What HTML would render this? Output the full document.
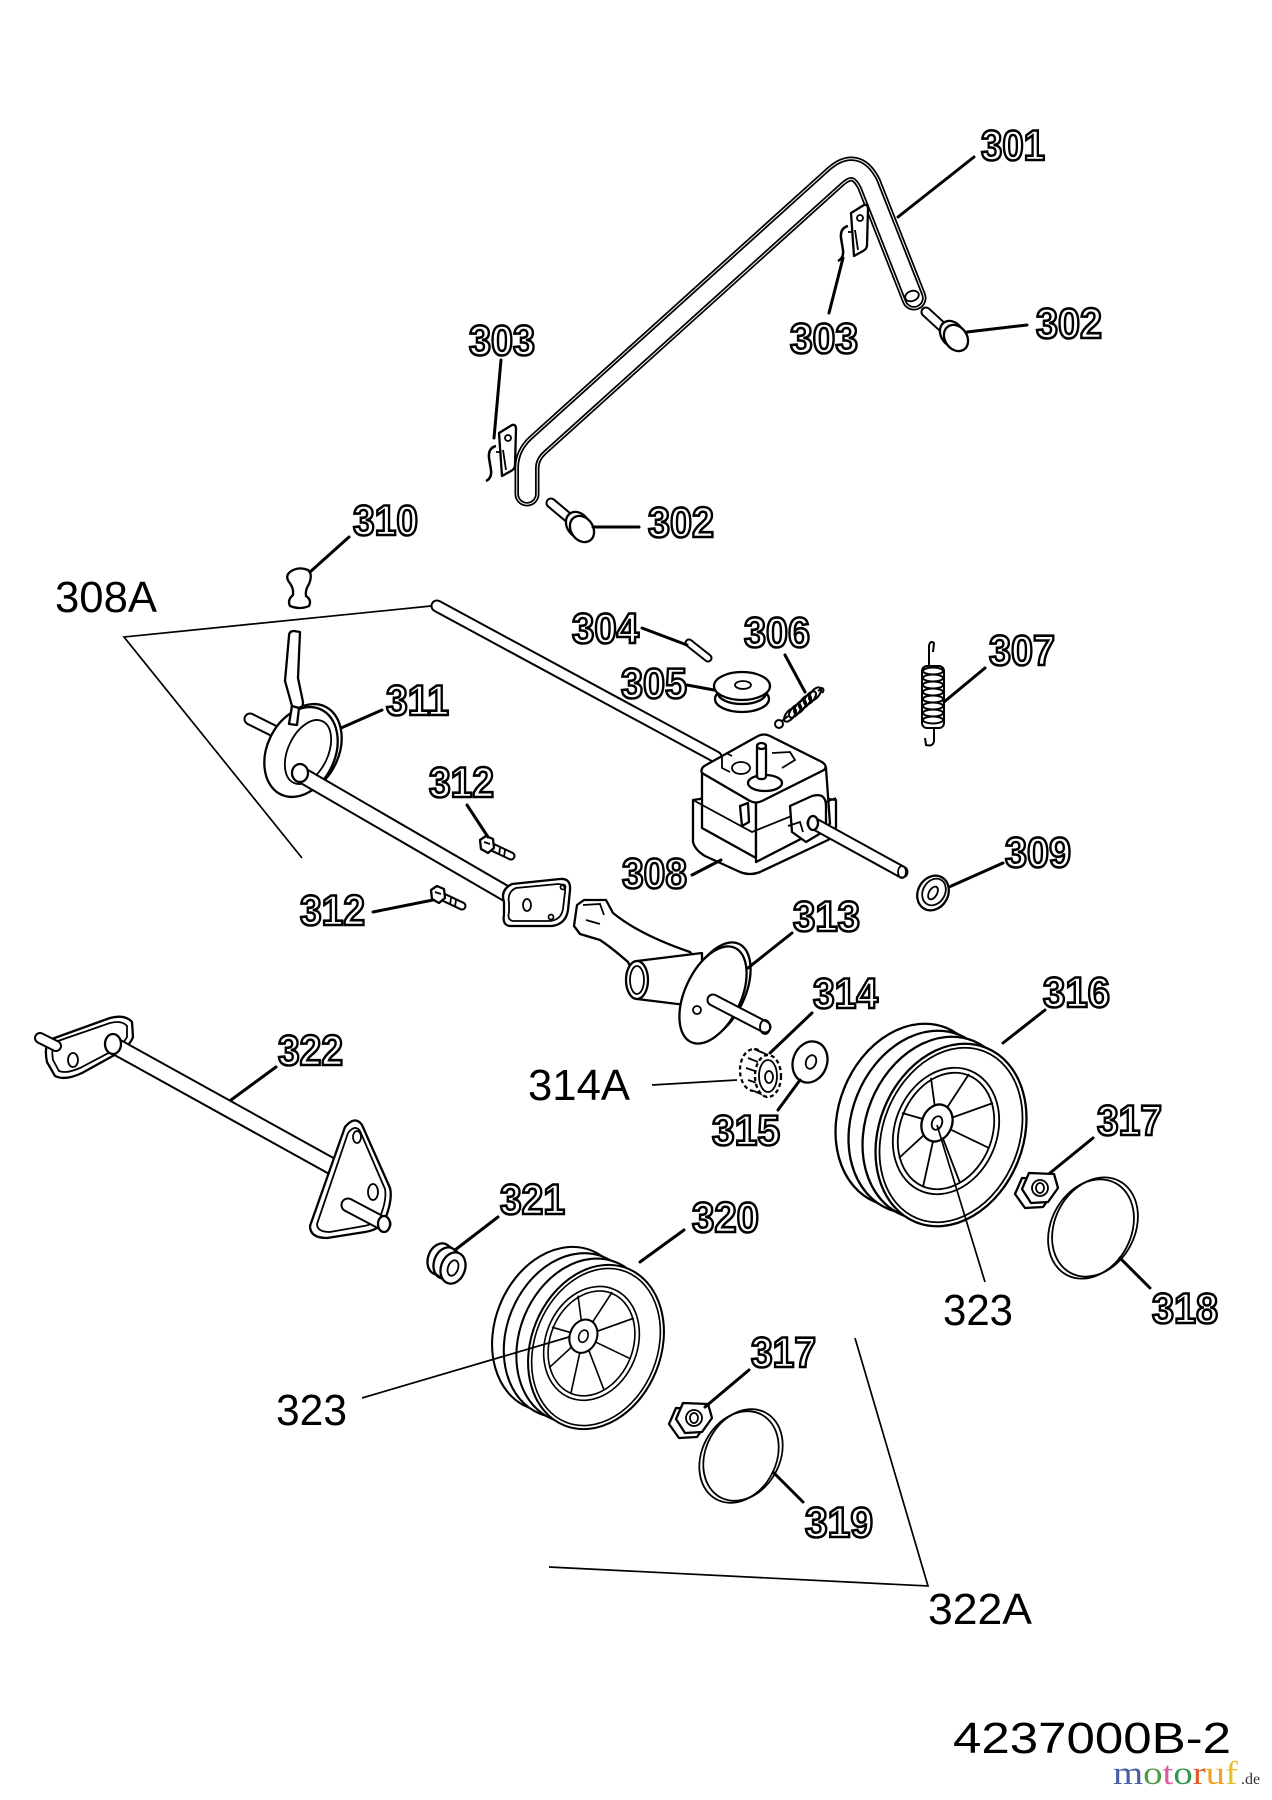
<!DOCTYPE html>
<html><head><meta charset="utf-8">
<style>
html,body{margin:0;padding:0;background:#fff;}
svg{display:block;}
.o{font-family:"Liberation Sans",sans-serif;font-weight:bold;font-size:43px;fill:#fff;stroke:#000;stroke-width:2.6px;}
.r{font-family:"Liberation Sans",sans-serif;font-size:44px;fill:#000;}
.ld{stroke:#000;stroke-width:3;stroke-linecap:round;fill:none}
.tl{stroke:#000;stroke-width:1.7;fill:none}
.p{fill:#fff;stroke:#000;stroke-width:2.3;stroke-linejoin:round}
.s{fill:none;stroke:#000;stroke-width:1.8}
</style></head><body>
<svg width="1272" height="1800" viewBox="0 0 1272 1800" xmlns="http://www.w3.org/2000/svg">
<rect width="1272" height="1800" fill="#fff"/>

<!-- ===== 301 handle ===== -->
<g fill="none" stroke-linecap="round" stroke-linejoin="round">
<path d="M527 494 L527 468 Q527 455 538 445 L835 177 Q856 158 869 184 L914 298" stroke="#000" stroke-width="25"/>
<path d="M527 494 L527 468 Q527 455 538 445 L835 177 Q856 158 869 184 L914 298" stroke="#fff" stroke-width="21.5"/>
<path d="M527 494 L527 468 Q527 455 538 445 L835 177 Q856 158 869 184 L914 298" stroke="#000" stroke-width="19.5"/>
<path d="M527 494 L527 468 Q527 455 538 445 L835 177 Q856 158 869 184 L914 298" stroke="#fff" stroke-width="16"/>
</g>
<ellipse cx="912" cy="296" rx="7" ry="5" transform="rotate(-20 912 296)" class="s"/>

<!-- 303 clips -->
<g>
<path d="M499 433 L512 425 Q516 424 516 429 L515 465 Q515 469 511 471 L502 476 Z" class="p"/>
<path d="M496 446 Q488 448 489 458 L491 470 Q492 478 486 481" fill="none" stroke="#000" stroke-width="2.5"/>
<circle cx="508" cy="438" r="3" class="s"/>
<path d="M503 450 L506 470 M496 452 L501 452" class="s"/>
</g>
<g transform="translate(352,-220)">
<path d="M499 433 L512 425 Q516 424 516 429 L515 465 Q515 469 511 471 L502 476 Z" class="p"/>
<path d="M496 446 Q488 448 489 458 L491 470 Q492 478 486 481" fill="none" stroke="#000" stroke-width="2.5"/>
<circle cx="508" cy="438" r="3" class="s"/>
<path d="M503 450 L506 470 M496 452 L501 452" class="s"/>
</g>

<!-- 302 bolts -->
<g>
<line x1="926" y1="312" x2="950" y2="334" stroke="#000" stroke-width="11" stroke-linecap="round"/>
<line x1="926" y1="312" x2="950" y2="334" stroke="#fff" stroke-width="7" stroke-linecap="round"/>
<ellipse cx="952" cy="334" rx="11" ry="14" transform="rotate(-35 952 334)" class="p"/>
<ellipse cx="956" cy="338" rx="11" ry="14" transform="rotate(-35 956 338)" class="p"/>
</g>
<g>
<line x1="551" y1="503" x2="576" y2="524" stroke="#000" stroke-width="11" stroke-linecap="round"/>
<line x1="551" y1="503" x2="576" y2="524" stroke="#fff" stroke-width="7" stroke-linecap="round"/>
<ellipse cx="578" cy="525" rx="11" ry="14" transform="rotate(-35 578 525)" class="p"/>
<ellipse cx="582" cy="529" rx="11" ry="14" transform="rotate(-35 582 529)" class="p"/>
</g>

<!-- 310 knob -->
<path d="M290 572 Q298 566 308 570 Q313 574 309 584 Q305 590 306 596 Q312 600 309 606 Q300 610 290 606 Q287 600 293 595 Q294 588 289 582 Q285 576 290 572 Z" class="p" stroke-width="2.6"/>

<!-- 308A rod -->
<line x1="437" y1="606" x2="716" y2="757" stroke="#000" stroke-width="13" stroke-linecap="round"/>
<line x1="437" y1="606" x2="716" y2="757" stroke="#fff" stroke-width="9" stroke-linecap="round"/>

<!-- 311 lever + disk + axle -->
<line x1="250" y1="719" x2="292" y2="740" stroke="#000" stroke-width="13" stroke-linecap="round"/>
<line x1="250" y1="719" x2="292" y2="740" stroke="#fff" stroke-width="9" stroke-linecap="round"/>
<path d="M289 636 Q289 631 294 631 L300 632 L298 678 L303 702 L299 745 L287 745 L292 706 L285 681 Z" class="p"/>
<ellipse cx="305" cy="749" rx="34" ry="47" transform="rotate(25 305 749)" class="p"/>
<ellipse cx="301" cy="752" rx="34" ry="47" transform="rotate(25 301 752)" class="p"/>
<ellipse cx="308" cy="752" rx="20" ry="34" transform="rotate(25 308 752)" class="s"/>
<path d="M292 706 L299 708 L297 725 L289 724 Z" class="p"/>
<line x1="300" y1="774" x2="512" y2="897" stroke="#000" stroke-width="17" stroke-linecap="round"/>
<line x1="300" y1="774" x2="512" y2="897" stroke="#fff" stroke-width="13" stroke-linecap="round"/>
<ellipse cx="300" cy="773" rx="8" ry="9" class="p"/>
<path d="M504 902 Q500 890 512 884 L560 879 Q571 878 570 890 L568 910 Q566 924 552 926 L510 926 Q502 925 504 915 Z" class="p"/>
<path d="M509 903 Q507 892 516 888 L558 884 Q566 884 565 892 L563 909 Q561 920 550 921 L513 921 Q507 920 509 912 Z" class="s" stroke-width="1.2"/>
<ellipse cx="527" cy="905" rx="4" ry="6" class="s"/>
<circle cx="563" cy="887" r="2.5" class="s"/>
<circle cx="551" cy="917" r="2.5" class="s"/>

<!-- 312 bolts -->
<g>
<line x1="492" y1="847" x2="511" y2="856" stroke="#000" stroke-width="9" stroke-linecap="round"/>
<line x1="492" y1="847" x2="511" y2="856" stroke="#fff" stroke-width="5" stroke-linecap="round"/>
<path d="M500 848 L499 855 M505 850 L504 857" class="s" stroke-width="1.2"/>
<polygon points="480,840 486,836 493,839 494,848 488,853 481,849" class="p"/>
<path d="M484 842 L490 844" class="s"/>
</g>
<g>
<line x1="443" y1="897" x2="462" y2="906" stroke="#000" stroke-width="9" stroke-linecap="round"/>
<line x1="443" y1="897" x2="462" y2="906" stroke="#fff" stroke-width="5" stroke-linecap="round"/>
<path d="M451 898 L450 905 M456 900 L455 907" class="s" stroke-width="1.2"/>
<polygon points="431,890 437,886 444,889 445,898 439,903 432,899" class="p"/>
<path d="M435 892 L441 894" class="s"/>
</g>

<!-- 304 pin -->
<line x1="689" y1="643" x2="708" y2="658" stroke="#000" stroke-width="9" stroke-linecap="round"/>
<line x1="689" y1="643" x2="708" y2="658" stroke="#fff" stroke-width="5" stroke-linecap="round"/>

<!-- 305 pulley -->
<ellipse cx="742" cy="699" rx="27" ry="13" class="p"/>
<ellipse cx="742" cy="693" rx="24" ry="11" class="p"/>
<ellipse cx="742" cy="686" rx="28" ry="14" class="p"/>
<ellipse cx="743" cy="685" rx="8" ry="4" class="s"/>

<!-- 306 spring -->
<g fill="none" stroke="#000" stroke-width="2">
<circle cx="779" cy="724" r="4"/>
<line x1="782" y1="721" x2="788" y2="716"/>
<ellipse cx="790" cy="715" rx="4" ry="8" transform="rotate(40 790 715)"/>
<ellipse cx="795" cy="711" rx="4" ry="8" transform="rotate(40 795 711)"/>
<ellipse cx="800" cy="707" rx="4" ry="8" transform="rotate(40 800 707)"/>
<ellipse cx="805" cy="702" rx="4" ry="8" transform="rotate(40 805 702)"/>
<ellipse cx="810" cy="698" rx="4" ry="8" transform="rotate(40 810 698)"/>
<ellipse cx="815" cy="694" rx="4" ry="8" transform="rotate(40 815 694)"/>
<path d="M818 691 L822 688 Q825 690 822 693"/>
</g>

<!-- 307 spring -->
<g fill="none" stroke="#000" stroke-width="2">
<path d="M929 668 L929 646 Q930 640 934 643 L933 652"/>
<rect x="922" y="666" width="22" height="62" rx="5"/>
<ellipse cx="933" cy="671" rx="10" ry="3.5"/>
<ellipse cx="933" cy="678" rx="10" ry="3.5"/>
<ellipse cx="933" cy="685" rx="10" ry="3.5"/>
<ellipse cx="933" cy="692" rx="10" ry="3.5"/>
<ellipse cx="933" cy="699" rx="10" ry="3.5"/>
<ellipse cx="933" cy="706" rx="10" ry="3.5"/>
<ellipse cx="933" cy="713" rx="10" ry="3.5"/>
<ellipse cx="933" cy="720" rx="10" ry="3.5"/>
<path d="M934 728 L934 741 Q933 747 926 745 L925 738"/>
</g>

<!-- 308 gearbox -->
<path d="M693 800 L693 842 Q695 850 705 856 L740 872 Q750 876 760 872 L828 840 Q836 835 836 826 L836 800 L760 790 Z" class="p"/>
<path d="M702 773 L702 828 L756 858 L756 803 Z" class="p"/>
<path d="M756 803 L826 768 L830 824 L756 862 Z" class="p"/>
<path d="M693 800 L752 832 L836 798" class="s" stroke-width="2.2"/>
<path d="M702 773 Q700 768 706 765 L758 736 Q764 733 770 736 L822 762 Q828 766 824 770 L762 801 Q756 804 750 801 Z" class="p"/>
<ellipse cx="741" cy="768" rx="9" ry="6" class="s" stroke-width="2.2"/>
<path d="M722 757 L722 768 L730 772 M726 753 L732 756" class="s" stroke-width="2.2"/>
<ellipse cx="765" cy="783" rx="17" ry="8" class="p"/>
<rect x="757" y="745" width="9" height="34" rx="3" class="p"/>
<ellipse cx="761.5" cy="746" rx="4.5" ry="3" class="p"/>
<path d="M772 753 L790 752 L795 760 L782 768" class="s" stroke-width="2.2"/>
<path d="M740 806 L748 803 L749 822 L742 826 Z" class="p"/>
<path d="M790 806 L812 796 Q826 792 826 806 L826 830 L806 842 L792 832 Z" class="p"/>
<path d="M788 826 L800 822 L803 832" class="s"/>
<line x1="813" y1="823" x2="902" y2="872" stroke="#000" stroke-width="13" stroke-linecap="round"/>
<line x1="813" y1="823" x2="902" y2="872" stroke="#fff" stroke-width="9" stroke-linecap="round"/>
<ellipse cx="813" cy="823" rx="5" ry="7" class="p"/>
<ellipse cx="902" cy="872" rx="4" ry="6" class="s"/>

<!-- 309 washer -->
<ellipse cx="933" cy="893" rx="15" ry="18" transform="rotate(30 933 893)" class="p" stroke-width="2.6"/>
<ellipse cx="934" cy="892" rx="11" ry="14" transform="rotate(30 934 892)" class="s" stroke-width="1.2"/>
<ellipse cx="933" cy="893" rx="4" ry="7" transform="rotate(30 933 893)" class="s"/>

<!-- 313 -->
<path d="M577 905 L584 900 L606 900 L613 913 Q640 935 690 952 L697 960 L690 975 L640 988 L628 962 Q612 948 600 940 L580 934 L574 926 Z" class="p"/>
<path d="M583 905 L600 904 L604 915 M586 920 L600 924" class="s"/>
<path d="M637 961 L702 953 L702 1007 L637 999 Z" class="p"/>
<ellipse cx="637" cy="980" rx="11" ry="19" class="p"/>
<ellipse cx="637" cy="980" rx="7" ry="14" class="s"/>
<ellipse cx="717" cy="991" rx="28" ry="52" transform="rotate(25 717 991)" class="p"/>
<ellipse cx="713" cy="995" rx="28" ry="52" transform="rotate(25 713 995)" class="p"/>
<circle cx="697" cy="1010" r="4" class="s"/>
<line x1="713" y1="1000" x2="765" y2="1027" stroke="#000" stroke-width="13" stroke-linecap="round"/>
<line x1="713" y1="1000" x2="765" y2="1027" stroke="#fff" stroke-width="9" stroke-linecap="round"/>
<ellipse cx="765" cy="1027" rx="5" ry="7" class="s"/>

<!-- 314A gear -->
<g>
<ellipse cx="754" cy="1070" rx="14" ry="21" class="p" stroke-width="3" stroke-dasharray="4 3"/>
<path d="M754 1049 L768 1055 L768 1097 L754 1091 Z" fill="#fff"/>
<path d="M754 1049 L768 1055 M754 1091 L768 1097" class="s"/>
<path d="M748 1058 L758 1062 M746 1068 L758 1072 M748 1080 L760 1084" class="s" stroke-width="2.5"/>
<ellipse cx="768" cy="1076" rx="13" ry="21" class="p" stroke-width="3" stroke-dasharray="4 3"/>
<ellipse cx="768" cy="1076" rx="9" ry="16" class="s"/>
<ellipse cx="769" cy="1077" rx="4" ry="6" class="s"/>
</g>

<!-- 315 washer -->
<ellipse cx="810" cy="1062" rx="17" ry="21" transform="rotate(20 810 1062)" class="p" stroke-width="2.6"/>
<ellipse cx="811" cy="1062" rx="5" ry="7" transform="rotate(20 811 1062)" class="s"/>

<!-- 322 axle -->
<path d="M49 1040 L110 1018 Q125 1014 132 1022 L133 1037 Q130 1045 120 1052 L82 1073 Q65 1081 55 1076 L47 1062 Q44 1048 49 1040 Z" class="p"/>
<path d="M55 1042 L110 1023 Q122 1020 127 1026 L127 1037 Q124 1043 116 1049 L80 1068 Q66 1074 59 1071 L53 1060 Q51 1048 55 1042 Z" class="s" stroke-width="1.2"/>
<ellipse cx="73" cy="1060" rx="5" ry="7" class="s"/>
<line x1="56" y1="1046" x2="40" y2="1038" stroke="#000" stroke-width="12" stroke-linecap="round"/>
<line x1="56" y1="1046" x2="40" y2="1038" stroke="#fff" stroke-width="8" stroke-linecap="round"/>
<line x1="113" y1="1045" x2="335" y2="1168" stroke="#000" stroke-width="18"/>
<line x1="113" y1="1045" x2="335" y2="1168" stroke="#fff" stroke-width="14"/>
<ellipse cx="113" cy="1044" rx="8" ry="10" class="p"/>
<path d="M345 1127 Q355 1115 362 1125 L390 1188 Q393 1200 384 1222 Q378 1230 365 1232 L327 1238 Q310 1238 310 1226 Z" class="p"/>
<path d="M348 1133 Q355 1124 360 1131 L385 1189 Q387 1200 380 1217 Q375 1224 364 1226 L330 1232 Q317 1232 317 1224 Z" class="s" stroke-width="1.2"/>
<ellipse cx="357" cy="1137" rx="4" ry="6" class="s"/>
<ellipse cx="373" cy="1192" rx="5" ry="8" class="s"/>
<line x1="348" y1="1205" x2="384" y2="1224" stroke="#000" stroke-width="15" stroke-linecap="round"/>
<line x1="348" y1="1205" x2="384" y2="1224" stroke="#fff" stroke-width="11" stroke-linecap="round"/>
<ellipse cx="384" cy="1224" rx="6" ry="8" class="p"/>

<!-- 321 bushing -->
<ellipse cx="440" cy="1259" rx="12" ry="16" transform="rotate(20 440 1259)" class="p"/>
<ellipse cx="446" cy="1263" rx="12" ry="16" transform="rotate(20 446 1263)" class="p" stroke="none"/>
<path d="M446 1244 L458 1252 M436 1274 L448 1283" class="s" stroke-width="2.2"/>
<ellipse cx="453" cy="1268" rx="12" ry="16" transform="rotate(20 453 1268)" class="p"/>
<ellipse cx="453" cy="1268" rx="5" ry="8" transform="rotate(20 453 1268)" class="s"/>

<!-- Wheel 316 -->
<g>
<ellipse cx="911" cy="1115" rx="72" ry="94" transform="rotate(22 911 1115)" class="p"/>
<ellipse cx="924" cy="1122" rx="72" ry="94" transform="rotate(22 924 1122)" class="p"/>
<ellipse cx="938" cy="1128" rx="72" ry="94" transform="rotate(22 938 1128)" class="p"/>
<ellipse cx="951" cy="1135" rx="72" ry="94" transform="rotate(22 951 1135)" class="p" stroke-width="2.6"/>
<ellipse cx="951" cy="1135" rx="68" ry="90" transform="rotate(22 951 1135)" class="s" stroke-width="1.2"/>
<ellipse cx="946" cy="1131" rx="51" ry="65" transform="rotate(22 946 1131)" class="s" stroke-width="3.5"/>
<ellipse cx="946" cy="1131" rx="46" ry="60" transform="rotate(22 946 1131)" class="s" stroke-width="1.5"/>
<g class="s" stroke-width="2.2">
<line x1="937" y1="1123" x2="989" y2="1148"/>
<line x1="937" y1="1123" x2="960" y2="1183"/>
<line x1="937" y1="1123" x2="923" y2="1187"/>
<line x1="937" y1="1123" x2="899" y2="1158"/>
<line x1="937" y1="1123" x2="902" y2="1113"/>
<line x1="937" y1="1123" x2="931" y2="1078"/>
<line x1="937" y1="1123" x2="969" y2="1074"/>
<line x1="937" y1="1123" x2="993" y2="1103"/>
</g>
<ellipse cx="937" cy="1123" rx="15" ry="19" transform="rotate(22 937 1123)" class="p"/>
<ellipse cx="937" cy="1123" rx="5" ry="7" transform="rotate(22 937 1123)" class="s"/>
</g>
<!-- Wheel 320 -->
<g transform="translate(596 1347) scale(0.9) translate(-951 -1135)">
<ellipse cx="911" cy="1115" rx="72" ry="94" transform="rotate(22 911 1115)" class="p"/>
<ellipse cx="924" cy="1122" rx="72" ry="94" transform="rotate(22 924 1122)" class="p"/>
<ellipse cx="938" cy="1128" rx="72" ry="94" transform="rotate(22 938 1128)" class="p"/>
<ellipse cx="951" cy="1135" rx="72" ry="94" transform="rotate(22 951 1135)" class="p" stroke-width="2.6"/>
<ellipse cx="951" cy="1135" rx="68" ry="90" transform="rotate(22 951 1135)" class="s" stroke-width="1.2"/>
<ellipse cx="946" cy="1131" rx="51" ry="65" transform="rotate(22 946 1131)" class="s" stroke-width="3.5"/>
<ellipse cx="946" cy="1131" rx="46" ry="60" transform="rotate(22 946 1131)" class="s" stroke-width="1.5"/>
<g class="s" stroke-width="2.2">
<line x1="937" y1="1123" x2="989" y2="1148"/>
<line x1="937" y1="1123" x2="960" y2="1183"/>
<line x1="937" y1="1123" x2="923" y2="1187"/>
<line x1="937" y1="1123" x2="899" y2="1158"/>
<line x1="937" y1="1123" x2="902" y2="1113"/>
<line x1="937" y1="1123" x2="931" y2="1078"/>
<line x1="937" y1="1123" x2="969" y2="1074"/>
<line x1="937" y1="1123" x2="993" y2="1103"/>
</g>
<ellipse cx="937" cy="1123" rx="15" ry="19" transform="rotate(22 937 1123)" class="p"/>
<ellipse cx="937" cy="1123" rx="5" ry="7" transform="rotate(22 937 1123)" class="s"/>
</g>

<!-- 317 nuts -->
<g transform="translate(1038 1188)">
<polygon points="14,-12 19,2 9,16 -9,17 -19,3 -12,-13" transform="translate(-4 3)" class="p"/>
<polygon points="16,-14 20,0 10,14 -7,15 -16,1 -9,-15" class="p"/>
<circle cx="2" cy="0" r="8" class="s"/>
<ellipse cx="2" cy="0" rx="4" ry="5" class="s"/>
</g>
<g transform="translate(692 1418)">
<polygon points="14,-12 19,2 9,16 -9,17 -19,3 -12,-13" transform="translate(-4 3)" class="p"/>
<polygon points="16,-14 20,0 10,14 -7,15 -16,1 -9,-15" class="p"/>
<circle cx="2" cy="0" r="8" class="s"/>
<ellipse cx="2" cy="0" rx="4" ry="5" class="s"/>
</g>

<!-- 318 / 319 rings -->
<ellipse cx="1091" cy="1229" rx="40" ry="52" transform="rotate(28 1091 1229)" class="s" stroke-width="2.2"/>
<ellipse cx="1095" cy="1227" rx="40" ry="52" transform="rotate(28 1095 1227)" class="s" stroke-width="2.4"/>
<ellipse cx="739" cy="1457" rx="37" ry="48" transform="rotate(28 739 1457)" class="s" stroke-width="2.2"/>
<ellipse cx="743" cy="1455" rx="37" ry="48" transform="rotate(28 743 1455)" class="s" stroke-width="2.4"/>

<!-- ===== leaders ===== -->
<g class="ld">
<line x1="974" y1="157" x2="898" y2="217"/>
<line x1="1027" y1="325" x2="967" y2="332"/>
<line x1="501" y1="360" x2="494" y2="438"/>
<line x1="829" y1="313" x2="843" y2="258"/>
<line x1="639" y1="527" x2="593" y2="527"/>
<line x1="349" y1="537" x2="310" y2="572"/>
<line x1="642" y1="628" x2="687" y2="645"/>
<line x1="785" y1="655" x2="805" y2="692"/>
<line x1="687" y1="685" x2="714" y2="690"/>
<line x1="985" y1="668" x2="944" y2="702"/>
<line x1="382" y1="710" x2="341" y2="728"/>
<line x1="467" y1="805" x2="488" y2="837"/>
<line x1="692" y1="875" x2="721" y2="860"/>
<line x1="1003" y1="863" x2="949" y2="887"/>
<line x1="373" y1="912" x2="433" y2="900"/>
<line x1="792" y1="933" x2="748" y2="968"/>
<line x1="276" y1="1067" x2="231" y2="1100"/>
<line x1="812" y1="1013" x2="770" y2="1053"/>
<line x1="1045" y1="1010" x2="1003" y2="1043"/>
<line x1="778" y1="1110" x2="800" y2="1080"/>
<line x1="1093" y1="1138" x2="1050" y2="1173"/>
<line x1="498" y1="1217" x2="455" y2="1250"/>
<line x1="684" y1="1230" x2="640" y2="1262"/>
<line x1="1120" y1="1258" x2="1150" y2="1288"/>
<line x1="749" y1="1370" x2="705" y2="1407"/>
<line x1="774" y1="1473" x2="803" y2="1502"/>
</g>
<g class="tl">
<line x1="652" y1="1085" x2="737" y2="1080"/>
<line x1="985" y1="1282" x2="937" y2="1125"/>
<line x1="362" y1="1398" x2="569" y2="1337"/>
<polyline points="431,606 124,637 302,858"/>
<polyline points="549,1567 928,1586 855,1338"/>
</g>

<!-- ===== outlined labels ===== -->
<g class="o">
<text x="981" y="160" textLength="64" lengthAdjust="spacingAndGlyphs">301</text>
<text x="1036" y="338" textLength="66" lengthAdjust="spacingAndGlyphs">302</text>
<text x="469" y="355" textLength="66" lengthAdjust="spacingAndGlyphs">303</text>
<text x="790" y="353" textLength="68" lengthAdjust="spacingAndGlyphs">303</text>
<text x="648" y="537" textLength="66" lengthAdjust="spacingAndGlyphs">302</text>
<text x="353" y="535" textLength="65" lengthAdjust="spacingAndGlyphs">310</text>
<text x="572" y="643" textLength="67" lengthAdjust="spacingAndGlyphs">304</text>
<text x="744" y="647" textLength="66" lengthAdjust="spacingAndGlyphs">306</text>
<text x="621" y="698" textLength="66" lengthAdjust="spacingAndGlyphs">305</text>
<text x="989" y="665" textLength="66" lengthAdjust="spacingAndGlyphs">307</text>
<text x="386" y="715" textLength="63" lengthAdjust="spacingAndGlyphs">311</text>
<text x="429" y="797" textLength="65" lengthAdjust="spacingAndGlyphs">312</text>
<text x="622" y="888" textLength="65" lengthAdjust="spacingAndGlyphs">308</text>
<text x="1005" y="867" textLength="66" lengthAdjust="spacingAndGlyphs">309</text>
<text x="300" y="925" textLength="65" lengthAdjust="spacingAndGlyphs">312</text>
<text x="793" y="931" textLength="67" lengthAdjust="spacingAndGlyphs">313</text>
<text x="278" y="1065" textLength="65" lengthAdjust="spacingAndGlyphs">322</text>
<text x="813" y="1008" textLength="65" lengthAdjust="spacingAndGlyphs">314</text>
<text x="1043" y="1007" textLength="67" lengthAdjust="spacingAndGlyphs">316</text>
<text x="712" y="1145" textLength="68" lengthAdjust="spacingAndGlyphs">315</text>
<text x="1097" y="1135" textLength="65" lengthAdjust="spacingAndGlyphs">317</text>
<text x="500" y="1214" textLength="65" lengthAdjust="spacingAndGlyphs">321</text>
<text x="692" y="1232" textLength="67" lengthAdjust="spacingAndGlyphs">320</text>
<text x="1152" y="1323" textLength="66" lengthAdjust="spacingAndGlyphs">318</text>
<text x="751" y="1367" textLength="65" lengthAdjust="spacingAndGlyphs">317</text>
<text x="805" y="1537" textLength="68" lengthAdjust="spacingAndGlyphs">319</text>
</g>

<!-- ===== plain labels ===== -->
<text class="r" x="55" y="612" font-size="47" textLength="102" lengthAdjust="spacingAndGlyphs">308A</text>
<text class="r" x="528" y="1100" textLength="102" lengthAdjust="spacingAndGlyphs">314A</text>
<text class="r" x="943" y="1325" textLength="70" lengthAdjust="spacingAndGlyphs">323</text>
<text class="r" x="276" y="1425" textLength="71" lengthAdjust="spacingAndGlyphs">323</text>
<text class="r" x="928" y="1624" textLength="104" lengthAdjust="spacingAndGlyphs">322A</text>
<text class="r" x="953" y="1753" font-size="52" textLength="278" lengthAdjust="spacingAndGlyphs">4237000B-2</text>

<!-- logo -->
<text x="1113" y="1784" font-family="'Liberation Serif',serif" font-size="33" textLength="125" lengthAdjust="spacingAndGlyphs"><tspan fill="#4b5fa6">m</tspan><tspan fill="#4f9e45">o</tspan><tspan fill="#e05b9c">t</tspan><tspan fill="#2f9a4e">o</tspan><tspan fill="#e05a2a">r</tspan><tspan fill="#f0a326">u</tspan><tspan fill="#e6c22a">f</tspan></text>
<text x="1241" y="1784" font-family="'Liberation Serif',serif" font-size="16" fill="#333">.de</text>
</svg>
</body></html>
